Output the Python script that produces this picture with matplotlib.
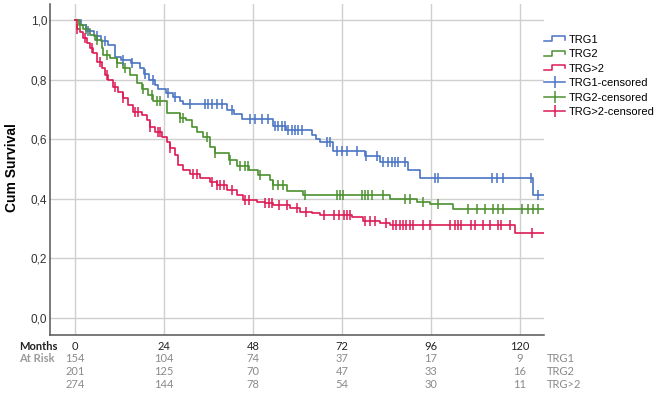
import numpy as np
import matplotlib
matplotlib.use("Agg")
import matplotlib.pyplot as plt
from matplotlib.lines import Line2D
from matplotlib.legend_handler import HandlerBase
from matplotlib.transforms import blended_transform_factory

# Courbes de Kaplan-Meier (temps de chute, survie après la chute)
trg1_t = [0, 1.5, 3, 5, 7, 9, 10.8, 12.5, 15, 17.5, 18.5, 20, 21.5, 22.5, 24.5, 26.5, 28.3, 29,
          41, 43, 45, 53.4, 57, 64, 65, 66, 69.6, 78.2, 82.3, 89.8, 93, 123.5]
trg1_s = [1.0, 0.985, 0.965, 0.945, 0.93, 0.918, 0.875, 0.866, 0.855, 0.838, 0.82, 0.80, 0.783,
          0.768, 0.755, 0.742, 0.73, 0.72, 0.698, 0.685, 0.668, 0.645, 0.632, 0.613, 0.602, 0.59,
          0.562, 0.545, 0.522, 0.497, 0.47, 0.413]
trg1_cens = [3.5, 6, 8, 13, 15.5, 19, 21, 25, 27, 31, 35, 35.9, 36.9, 38.3, 39.6, 42.3, 47.2, 48.5,
             50.4, 52, 54, 54.7, 55.8, 56.6, 57.4, 58.5, 59.3, 60.1, 61.2, 68, 68.8, 70.6, 72, 73.4,
             76, 78.5, 81.4, 83, 84.4, 85.5, 86.3, 87.1, 89, 97, 97.8, 112.5, 113.8, 115.4, 123, 124.8]

trg2_t = [0, 1, 2.2, 4, 5.4, 7.3, 7.6, 9.4, 11.3, 13, 14.8, 16.7, 18, 19.7, 21, 24.8, 28.3, 30,
          31.5, 33, 34.5, 36.4, 37.8, 41.5, 43.7, 47, 49.4, 52.6, 53.4, 57.2, 61.5, 85, 92.2, 95.7, 102]
trg2_s = [1.0, 0.985, 0.97, 0.95, 0.933, 0.906, 0.883, 0.872, 0.856, 0.84, 0.815, 0.79, 0.77,
          0.748, 0.73, 0.688, 0.67, 0.665, 0.64, 0.625, 0.607, 0.574, 0.553, 0.53, 0.51, 0.497,
          0.48, 0.463, 0.446, 0.425, 0.413, 0.40, 0.39, 0.383, 0.366]
trg2_cens = [1.3, 3, 5.9, 8.6, 11.3, 13.5, 18.3, 20.7, 22, 23, 28.3, 29.1, 35.5, 37.8, 41.8, 44.5,
             45.8, 46.7, 49.9, 53.4, 54.7, 56.1, 62, 70.6, 71.5, 72.3, 77.4, 78.2, 79, 80.1, 83, 89,
             90.3, 93.8, 97.9, 106, 108.4, 110.6, 112.7, 114, 115.4, 120.5, 122.2, 123.5, 124.9]

trg3_t = [0, 0.5, 1.3, 2.2, 3.2, 4, 4.9, 5.9, 7.3, 8.1, 8.9, 10.2, 11.6, 13, 14.3, 15.6, 18, 19.4,
          20.2, 21.6, 23.5, 24.8, 25.6, 27, 27.8, 29.1, 31, 33.7, 36.4, 38.3, 41, 43.7, 45.3, 49,
          51.2, 53.4, 58, 60.7, 64, 66, 74.7, 77.7, 82.3, 85, 118.7]
trg3_s = [1.0, 0.97, 0.96, 0.94, 0.923, 0.906, 0.89, 0.86, 0.84, 0.815, 0.80, 0.775, 0.758, 0.738,
          0.715, 0.69, 0.68, 0.665, 0.64, 0.625, 0.607, 0.59, 0.57, 0.547, 0.513, 0.497, 0.482,
          0.47, 0.457, 0.446, 0.43, 0.413, 0.396, 0.39, 0.386, 0.38, 0.37, 0.357, 0.352, 0.345,
          0.338, 0.327, 0.32, 0.312, 0.286]
trg3_cens = [0.5, 2.7, 4.5, 6.7, 8.5, 10.8, 13, 16.1, 17, 20.2, 22.5, 23, 25.6, 31.9, 32.8, 36.9,
             38.3, 39.2, 40.1, 42.3, 45.9, 46.8, 51.3, 52.2, 53.1, 54.9, 57.2, 59.9, 62.2, 67.1,
             69.9, 71.2, 72.6, 73.5, 74.2, 78.2, 79.5, 80.9, 84, 85.8, 86.7, 87.6, 88.5, 89.4, 90.3,
             91.2, 93.9, 95.7, 101.1, 102.4, 103.3, 104.2, 106.9, 107.8, 110.1, 111.9, 114.1, 115,
             117.3, 123.2]

suivi_max = 126.5
groupes = ["TRG1", "TRG2", "TRG>2"]
couleurs = ["#4a74c4", "#4b9130", "#dc1a55"]

# Tableau des patients à risque
mois_ticks = [0, 24, 48, 72, 96, 120]
at_risk = {
    "TRG1": [154, 104, 74, 37, 17, 9],
    "TRG2": [201, 125, 70, 47, 33, 16],
    "TRG>2": [274, 144, 78, 54, 30, 11],
}


class StepHandler(HandlerBase):
    # petit symbole en escalier comme dans la légende SPSS
    def create_artists(self, legend, orig_handle, xdescent, ydescent, width, height, fontsize, trans):
        xs = np.array([0, 0.4, 0.4, 1.0, 1.0]) * width - xdescent
        ys = np.array([0.2, 0.2, 0.85, 0.85, 0.45]) * height - ydescent
        ln = Line2D(xs, ys, color=orig_handle.get_color(), lw=1.1)
        ln.set_transform(trans)
        return [ln]


W, H = 657, 394
fig = plt.figure(figsize=(W / 100, H / 100), dpi=100)
ax = fig.add_axes([50 / W, 1 - 335 / H, (544 - 50) / W, (335 - 4) / H])

courbes = [(trg1_t, trg1_s, trg1_cens), (trg2_t, trg2_s, trg2_cens), (trg3_t, trg3_s, trg3_cens)]
for (t, s, c), col in zip(courbes, couleurs):
    t = np.array(t + [suivi_max])
    s = np.array(s + [s[-1]])
    ax.step(t, s, where="post", color=col, lw=1.2, zorder=3)
    idx = np.searchsorted(t, c, side="right") - 1
    ax.plot(c, s[idx], ls="none", marker="|", ms=6.5, mew=1.1, color=col, zorder=4)

ax.set_xlim(-6.74, suivi_max)
ax.set_ylim(-0.057, 1.054)
ax.set_xticks(mois_ticks)
ax.set_yticks([0, 0.2, 0.4, 0.6, 0.8, 1.0])
ax.set_yticklabels([f"{v:.1f}".replace(".", ",") for v in [0, 0.2, 0.4, 0.6, 0.8, 1.0]],
                   fontsize=8.5, family="Liberation Sans", color="#333333")
ax.set_xticklabels([str(m) for m in mois_ticks], fontsize=8, family="Lato", color="#222222")
ax.tick_params(axis="both", length=0)
ax.tick_params(axis="y", pad=2)
ax.tick_params(axis="x", pad=4)
ax.grid(True, color="#cfcfcf", lw=1)
ax.set_axisbelow(True)
for sp in ["top", "right"]:
    ax.spines[sp].set_visible(False)
for sp in ["left", "bottom"]:
    ax.spines[sp].set_color("#555555")
    ax.spines[sp].set_linewidth(1.1)

fig.text(12 / W, 1 - 168 / H, "Cum Survival", rotation=90, ha="center", va="center",
         fontsize=10, weight="bold", family="Liberation Sans")

# Légende
handles = [Line2D([], [], color=c) for c in couleurs]
handles += [Line2D([], [], color=c, marker="|", ms=8, mew=1.1, lw=1.1) for c in couleurs]
labels = groupes + [g + "-censored" for g in groupes]
hmap = {h: StepHandler() for h in handles[:3]}
ax.legend(handles, labels, handler_map=hmap, loc="upper left", bbox_to_anchor=(544 / W, 1 - 35 / H),
          bbox_transform=fig.transFigure, frameon=False, handlelength=1.9,
          handletextpad=0.3, labelspacing=0.4, numpoints=1, borderaxespad=0, borderpad=0,
          prop={"family": "Liberation Sans", "size": 8})

# Tableau "At Risk"
tr = blended_transform_factory(ax.transData, fig.transFigure)
fig.text(19 / W, 1 - 346 / H, "Months", ha="left", va="center", fontsize=8, weight="bold",
         family="Lato", color="#222222")
fig.text(19 / W, 1 - 358 / H, "At Risk", ha="left", va="center", fontsize=8, weight="bold",
         family="Lato", color="#9a9a9a")
for i, g in enumerate(groupes):
    y = 1 - (358 + 13.5 * i) / H
    for m, n in zip(mois_ticks, at_risk[g]):
        ax.text(m, y, str(n), transform=tr, ha="center", va="center", fontsize=8,
                family="Lato", color="#8a8a8a")
    fig.text(547 / W, y, g, ha="left", va="center", fontsize=8, family="Lato", color="#8a8a8a")

fig.savefig("out.png", dpi=100)
